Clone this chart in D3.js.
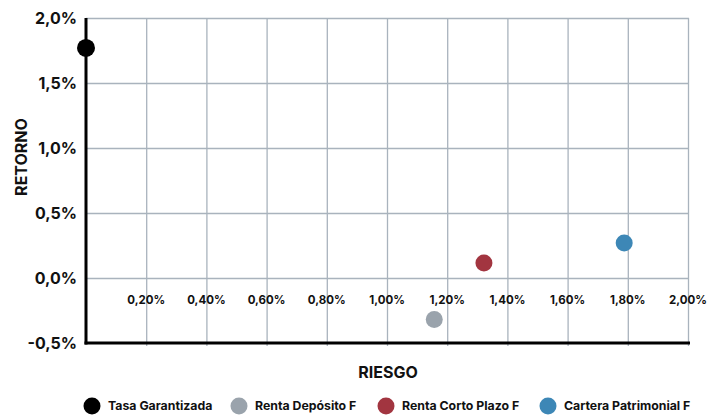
<!DOCTYPE html>
<html>
<head>
<meta charset="utf-8">
<script src="https://cdn.jsdelivr.net/npm/d3@7"></script>
<style>
  body { margin: 0; background: #fff; }
  text { font-family: "Inter", "Lato", sans-serif; font-weight: 700; fill: #111; }
  .grid line { stroke: #a9b3bd; stroke-width: 1.3; }
  .grid .domain { display: none; }
</style>
</head>
<body>
<div id="main"></div>
<script>
// data
var names = ["Tasa Garantizada", "Renta Depósito F", "Renta Corto Plazo F", "Cartera Patrimonial F"];
var riesgo = [0.0, 1.157, 1.322, 1.788];
var retorno = [1.77, -0.32, 0.115, 0.27];
var colors = ["#000000", "#9aa3ac", "#a23540", "#3d87b6"];
var xTicks = [0.2, 0.4, 0.6, 0.8, 1.0, 1.2, 1.4, 1.6, 1.8, 2.0];
var yTicks = [-0.5, 0.0, 0.5, 1.0, 1.5, 2.0];

// dimensions
var svg_width = 715, svg_height = 415;
var margin = {top: 18, right: 27, bottom: 72, left: 86};
var graph_width = svg_width - margin.left - margin.right,
    graph_height = svg_height - margin.top - margin.bottom;

var svg = d3.select("#main").append("svg")
    .attr("width", svg_width)
    .attr("height", svg_height);
var g = svg.append("g")
    .attr("transform", "translate(" + margin.left + "," + margin.top + ")");

var xScale = d3.scaleLinear().domain([0, 2.0]).range([0, 602]);
var yScale = d3.scaleLinear().domain([-0.5, 2.0]).range([graph_height, 0]);

// comma decimals, plain hyphen for negatives
var fmtY = function(d) { return d3.format(".1f")(d).replace(".", ",").replace("\u2212", "-") + "%"; };
var fmtX = function(d) { return d3.format(".2f")(d).replace(".", ",") + "%"; };

// grid
g.append("g").attr("class", "grid")
    .call(d3.axisBottom(xScale).tickValues(xTicks).tickSize(-graph_height - 3).tickFormat(""))
    .attr("transform", "translate(0," + (graph_height + 3) + ")");
g.append("g").attr("class", "grid")
    .call(d3.axisLeft(yScale).tickValues(yTicks.filter(function(d) { return d > -0.5; }))
        .tickSize(-xScale(2.0) - 1).tickFormat(""));

// x tick labels, sitting just under the zero line
g.selectAll(".xlab").data(xTicks).enter().append("text")
    .attr("class", "xlab")
    .attr("x", function(d) { return xScale(d); })
    .attr("y", yScale(0) + 26)
    .attr("text-anchor", "middle")
    .style("font-size", "11.5px")
    .text(fmtX);

// y tick labels
g.selectAll(".ylab").data(yTicks).enter().append("text")
    .attr("class", "ylab")
    .attr("x", -9)
    .attr("y", function(d) { return yScale(d); })
    .attr("dy", "0.36em")
    .attr("text-anchor", "end")
    .style("font-size", "16px")
    .text(fmtY);

// axis lines
g.append("line").attr("x1", 0).attr("x2", 0)
    .attr("y1", 0).attr("y2", graph_height + 1.5)
    .attr("stroke", "#000").attr("stroke-width", 3);
g.append("line").attr("x1", -1.5).attr("x2", xScale(2.0) + 2)
    .attr("y1", graph_height).attr("y2", graph_height)
    .attr("stroke", "#000").attr("stroke-width", 3);

// points
g.selectAll(".dot").data(names).enter().append("circle")
    .attr("class", "dot")
    .attr("cx", function(d, i) { return xScale(riesgo[i]); })
    .attr("cy", function(d, i) { return yScale(retorno[i]); })
    .attr("r", function(d, i) { return i == 0 ? 9 : 8.5; })
    .attr("fill", function(d, i) { return colors[i]; });

// axis titles
svg.append("text")
    .attr("transform", "translate(27,157) rotate(-90)")
    .attr("text-anchor", "middle")
    .style("font-size", "16px")
    .text("RETORNO");
svg.append("text")
    .attr("x", 388).attr("y", 378)
    .attr("text-anchor", "middle")
    .style("font-size", "16px")
    .text("RIESGO");

// legend
var legendX = [92, 239, 386, 548];
var leg = svg.selectAll(".legend").data(names).enter().append("g")
    .attr("class", "legend")
    .attr("transform", function(d, i) { return "translate(" + legendX[i] + ",406)"; });
leg.append("circle").attr("r", 8.5)
    .attr("fill", function(d, i) { return colors[i]; });
leg.append("text").attr("x", 16).attr("dy", "0.35em")
    .style("font-size", "12.3px")
    .text(function(d) { return d; });
</script>
</body>
</html>
